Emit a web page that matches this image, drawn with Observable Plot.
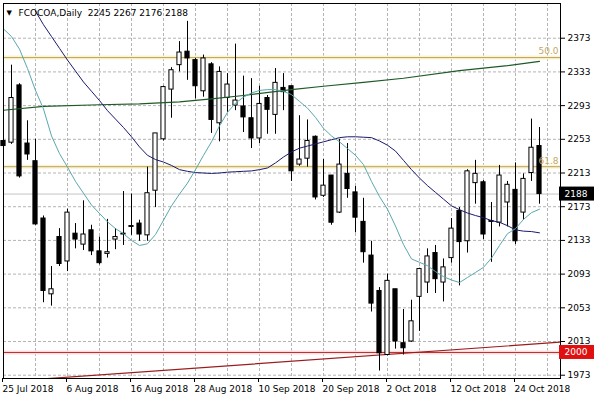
<!DOCTYPE html>
<html><head><meta charset="utf-8">
<script src="https://cdn.jsdelivr.net/npm/d3@7"></script>
<script src="https://cdn.jsdelivr.net/npm/@observablehq/plot@0.6"></script>
<style>
body{margin:0;background:#fff;}
#chart{width:600px;height:400px;}
</style></head><body><div id="chart"></div>
<script>
// Daily FCOCOA bars, 25 Jul 2018 .. 29 Oct 2018 (index = trading-day number)
const opens  = [2251,2249,2317,2248,2227,2159,2069,2137,2108,2141,2128,2145,2120,2117,2134,2141,2150,2153,2139,2192,2253,2312,2341,2357,2347,2310,2342,2272,2302,2293,2292,2278,2254,2302,2282,2314,2316,2223,2230,2256,2186,2210,2166,2212,2190,2155,2115,2073,1997,2075,2011,2013,2066,2083,2118,2083,2112,2168,2132,2201,2202,2156,2154,2178,2193,2166,2213,2245];
const highs  = [2266,2341,2319,2275,2253,2162,2102,2147,2170,2153,2180,2151,2137,2158,2147,2191,2188,2157,2220,2260,2316,2338,2369,2393,2349,2353,2344,2339,2331,2366,2328,2325,2316,2305,2337,2331,2316,2281,2276,2257,2229,2210,2253,2248,2197,2183,2132,2077,2093,2075,2051,2062,2100,2123,2127,2111,2159,2172,2217,2228,2204,2178,2222,2203,2225,2212,2277,2267];
const lows   = [2228,2247,2207,2228,2151,2059,2055,2102,2096,2123,2121,2115,2104,2112,2122,2127,2139,2132,2132,2172,2251,2278,2333,2323,2301,2303,2260,2250,2285,2287,2261,2242,2248,2259,2259,2287,2203,2221,2220,2181,2184,2151,2165,2183,2142,2106,2048,1978,1996,2004,1997,2012,2025,2070,2070,2060,2106,2079,2118,2176,2134,2107,2149,2149,2128,2157,2203,2176];
const closes = [2245,2302,2209,2235,2152,2073,2075,2105,2166,2134,2140,2120,2106,2119,2137,2140,2149,2140,2189,2260,2315,2335,2356,2349,2316,2349,2276,2333,2318,2299,2279,2254,2295,2288,2320,2309,2215,2229,2251,2184,2198,2154,2223,2194,2160,2119,2058,1999,2085,2013,2005,2037,2099,2114,2087,2101,2147,2131,2215,2212,2140,2155,2210,2199,2132,2206,2243,2188];

// moving averages
const fastMA = [2384,2375,2360,2337,2311,2289,2257,2236,2220,2203,2189,2175,2165,2155,2147,2141,2133,2127,2129,2140,2157,2174,2188,2201,2217,2234,2250,2269,2285,2296,2303,2308,2311,2312,2312,2310,2306,2298,2290,2279,2266,2257,2250,2242,2234,2223,2203,2185,2170,2150,2128,2111,2107,2103,2096,2090,2086,2083,2089,2095,2101,2112,2127,2141,2147,2158,2166,2170];
const midMAStart = 4;
const midMA = [2405,2389,2375,2361,2347,2334,2321,2310,2299,2287,2277,2267,2256,2244,2234,2229,2226,2222,2217,2215,2213.5,2213,2212.5,2213,2214,2214.5,2215,2215.5,2217,2219,2225,2232,2238,2242.5,2245,2247.5,2250,2252.5,2255,2256,2256,2255.5,2255,2251,2246,2239,2228,2217,2207,2198,2190,2182,2174,2169.5,2165.5,2162.5,2160,2156.5,2154.5,2150.5,2145.5,2144,2143.5,2142];
const slowMAIdx = [0,5,12,17,22,26,30,36,40,45,50,57,63,67];
const slowMA    = [2287.5,2292,2294,2295,2297.5,2301,2305,2312,2316,2320.5,2325.5,2334.5,2340.5,2345.5];

// levels
const fibLevels = [2350, 2220.5];
const fibLabels = ["50.0", "61.8"];
const bidPrice = 2188;
const supportPrice = 2000;
const trendIdx = [5.5, 69.6];
const trendVal = [1969, 2012.2];
const priceTags = [{v: bidPrice, color: "black"}, {v: supportPrice, color: "#e01010"}];

// axes
const yTicks = [2373,2333,2293,2253,2213,2173,2133,2093,2053,2013,1973];
const xGridIdx = [4,8,12,16,20,24,28,32,36,40,44,48,52,56,60,64,68];
const xTickIdx = [0,8,16,24,32,40,48,56,64];
const xTickLabels = ["25 Jul 2018","6 Aug 2018","16 Aug 2018","28 Aug 2018","10 Sep 2018","20 Sep 2018","2 Oct 2018","12 Oct 2018","24 Oct 2018"];
const titleText = "FCOCOA,Daily  2245 2267 2176 2188";

const bars = opens.map((o, i) => ({i, open: o, high: highs[i], low: lows[i], close: closes[i], up: closes[i] > o}));
const fast = fastMA.map((v, i) => ({i, v}));
const mid = midMA.map((v, k) => ({i: k + midMAStart, v}));
const slow = slowMA.map((v, k) => ({i: slowMAIdx[k], v}));
const fib = fibLevels.map((v, k) => ({v, label: fibLabels[k]}));
const trend = trendIdx.map((i, k) => ({i, v: trendVal[k]}));
const xMax = 69.625;

const chart = Plot.plot({
  width: 600, height: 400,
  marginLeft: 3, marginTop: 3, marginRight: 40, marginBottom: 22,
  style: {fontFamily: "DejaVu Sans", fontSize: "8.5px", background: "#fff", color: "black", overflow: "visible"},
  x: {domain: [0, xMax]},
  y: {domain: [1969.1, 2414.2]},
  marks: [
    Plot.gridY(yTicks, {stroke: "#b4b4b4", strokeOpacity: 1, strokeDasharray: "3,2"}),
    Plot.gridX(xGridIdx, {stroke: "#b4b4b4", strokeOpacity: 1, strokeDasharray: "3,2"}),
    Plot.ruleY(fib, {y: "v", stroke: "#fbf3d2", strokeWidth: 4}),
    Plot.ruleY(fib, {y: "v", stroke: "#b9a35c", strokeWidth: 1}),
    Plot.ruleY([bidPrice], {stroke: "#c4c4c4", strokeWidth: 1}),
    Plot.ruleY([supportPrice], {stroke: "#fbe2e2", strokeWidth: 4}),
    Plot.ruleY([supportPrice], {stroke: "#c0282a", strokeWidth: 1}),
    Plot.line(trend, {x: "i", y: "v", stroke: "#9a1c1c", strokeWidth: 1.2, clip: true}),
    Plot.ruleX(bars, {x: "i", y1: "low", y2: "high", stroke: "black", strokeWidth: 1}),
    Plot.rect(bars, {x1: d => d.i - 0.26, x2: d => d.i + 0.26, y1: "open", y2: "close",
      fill: d => d.up ? "white" : "black", stroke: "black", strokeWidth: 1}),
    Plot.line(slow, {x: "i", y: "v", stroke: "#1f5a26", strokeWidth: 1.2, clip: true}),
    Plot.line(mid, {x: "i", y: "v", stroke: "#1a1a6e", strokeWidth: 1, clip: true}),
    Plot.line(fast, {x: "i", y: "v", stroke: "#5aa7ae", strokeWidth: 1, clip: true}),
    Plot.text(fib, {y: "v", text: "label", frameAnchor: "right", textAnchor: "end", dx: -2, dy: -6, fill: "#c4a862", fontSize: 9}),
    Plot.frame({stroke: "black", strokeWidth: 1}),
    Plot.axisY(yTicks, {anchor: "right", tickSize: 4, tickPadding: 3, label: null, fontSize: 9, tickFormat: d => String(d)}),
    Plot.axisX(xTickIdx, {anchor: "bottom", tickSize: 4, tickPadding: 3, label: null, textAnchor: "start", dx: -1,
      tickFormat: d => xTickLabels[xTickIdx.indexOf(d)], fontSize: 9}),
    // price tags on the right axis
    Plot.rect(priceTags, {x1: xMax, x2: xMax, y1: "v", y2: "v", fill: "color",
      insetLeft: -1, insetRight: -34, insetTop: -7, insetBottom: -7, clip: false}),
    Plot.text(priceTags, {y: "v", text: d => String(d.v), frameAnchor: "right", textAnchor: "start", dx: 4, fill: "white", fontSize: 9}),
    Plot.text([titleText], {frameAnchor: "top-left", text: d => d, dx: 15, dy: 6, lineAnchor: "top", textAnchor: "start", fontSize: 9, fill: "black"}),
    Plot.text(["▼"], {frameAnchor: "top-left", text: d => d, dx: 3, dy: 7, lineAnchor: "top", textAnchor: "start", fontSize: 7, fill: "black"})
  ]
});
document.getElementById("chart").appendChild(chart);
</script></body></html>
